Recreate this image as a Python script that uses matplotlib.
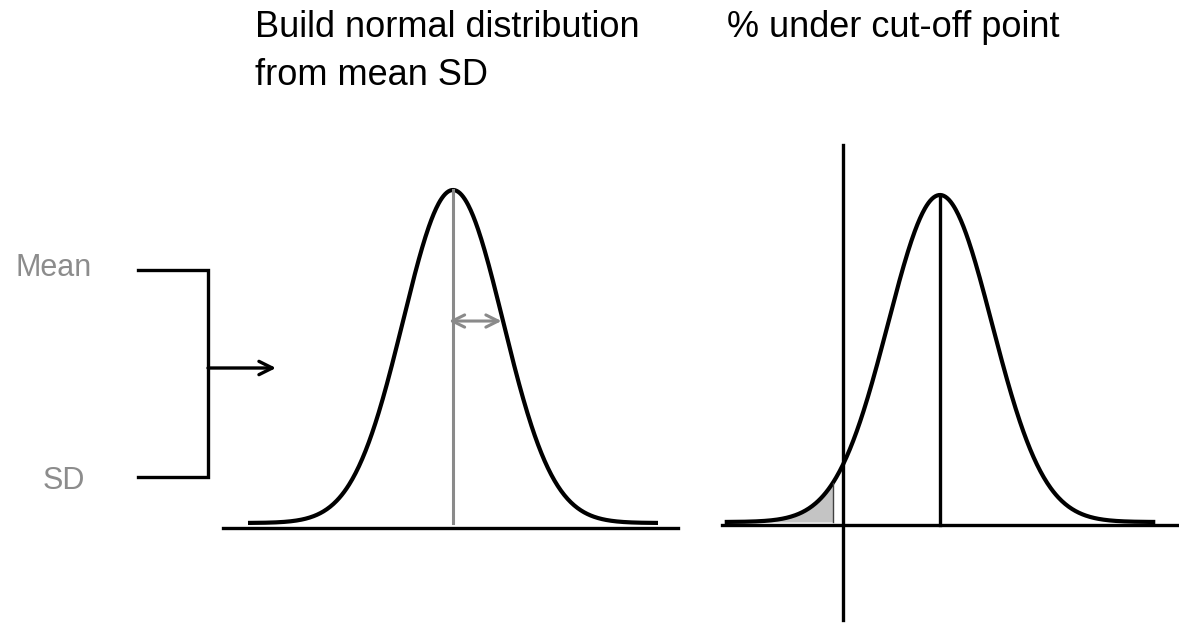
import numpy as np
import matplotlib.pyplot as plt

# distribution parameters (standardised units)
mean = 0.0
sd = 1.0
tail = 4.1          # curve drawn out to +/- this many SD
cutoff = -1.87      # cut-off point on the right panel
shade_to = -2.06    # shaded area ends here

titles = ["Build normal distribution\nfrom mean SD", "% under cut-off point"]
inputs = ["Mean", "SD"]

W, H = 1179, 630
fig = plt.figure(figsize=(W / 100, H / 100), dpi=100)
font = ['Liberation Sans', 'DejaVu Sans']


def panel(center_px, sd_px, base_px, peak_px):
    ax = fig.add_axes([0, 0, 1, 1])
    ax.set_xlim(-center_px / sd_px, (W - center_px) / sd_px)
    span = base_px - peak_px
    ax.set_ylim((base_px - H) / span, base_px / span)
    ax.axis('off')
    ax.patch.set_alpha(0)
    return ax


def pdf(x):
    return np.exp(-0.5 * ((x - mean) / sd) ** 2)


x = np.linspace(mean - tail * sd, mean + tail * sd, 500)

# left panel
ax1 = panel(453, 50, 523, 190)
ax1.plot(x, pdf(x), color='black', lw=3, solid_capstyle='butt')
ax1.plot([-4.6, 4.5], [-0.016, -0.016], color='black', lw=2.4)
ax1.plot([mean, mean], [0, 1], color='#8a8a8a', lw=2.2)
ax1.annotate('', xy=(mean + sd * 0.97, pdf(mean + sd)), xytext=(mean - 0.08, pdf(mean + sd)),
             arrowprops=dict(arrowstyle='<->', color='#8a8a8a', lw=2.2,
                             mutation_scale=22, shrinkA=0, shrinkB=0))

# right panel
ax2 = panel(940, 52, 522, 195)
ax2.plot(x, pdf(x), color='black', lw=3)
xs = x[x <= shade_to]
ax2.fill_between(np.append(xs, shade_to), 0, pdf(np.append(xs, shade_to)),
                 color='#c4c4c4', lw=0)
ax2.plot([shade_to, shade_to], [0, pdf(shade_to)], color='#404040', lw=1)
ax2.plot([-4.2, 4.55], [-0.01, -0.01], color='black', lw=2.4)
ax2.plot([mean, mean], [-0.01, 1], color='black', lw=2.4)
ax2.plot([cutoff, cutoff], [(522 - 145) / 327, (522 - 620) / 327], color='black', lw=2.4)

# annotation layer in pixels
ax0 = fig.add_axes([0, 0, 1, 1])
ax0.set_xlim(0, W)
ax0.set_ylim(H, 0)
ax0.axis('off')
ax0.patch.set_alpha(0)

ax0.text(255, 37, titles[0].split('\n')[0], fontsize=26, family=font, va='baseline', ha='left')
ax0.text(255, 85, titles[0].split('\n')[1], fontsize=26, family=font, va='baseline', ha='left')
ax0.text(727, 37, titles[1], fontsize=26, family=font, va='baseline', ha='left')
ax0.text(15, 276, inputs[0], fontsize=22, family=font, color='#8c8c8c', va='baseline')
ax0.text(43, 489, inputs[1], fontsize=22, family=font, color='#8c8c8c', va='baseline')

ax0.plot([138, 208, 208, 138], [270, 270, 477, 477], color='black', lw=2.4,
         solid_joinstyle='miter')
ax0.annotate('', xy=(276, 368), xytext=(208, 368),
             arrowprops=dict(arrowstyle='->', color='black', lw=2.4,
                             mutation_scale=24, shrinkA=0, shrinkB=0))

fig.savefig('out.png', dpi=100)
